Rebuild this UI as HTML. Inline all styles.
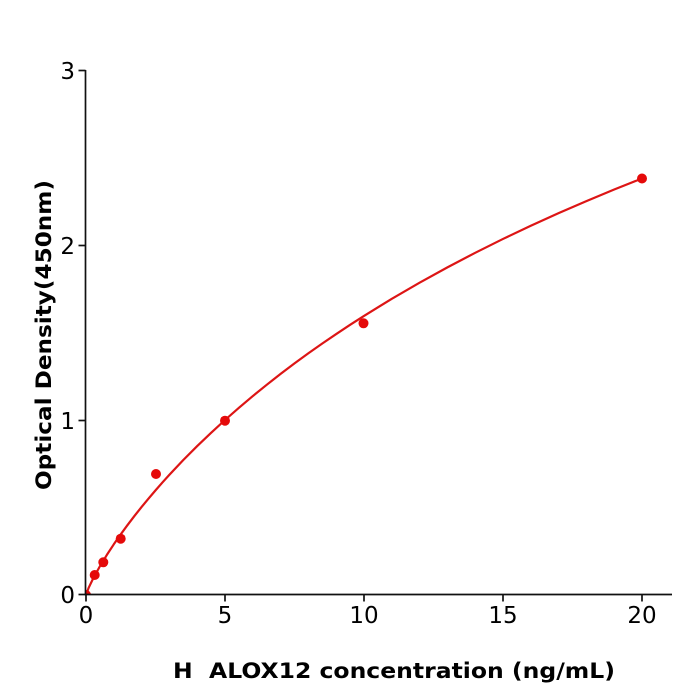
<!DOCTYPE html>
<html>
<head>
<meta charset="utf-8">
<style>
  html,body{margin:0;padding:0;background:#fff;}
  svg{display:block;}
  text{font-family:"DejaVu Sans","Liberation Sans",sans-serif;fill:#000;}
</style>
</head>
<body>
<svg width="700" height="700" viewBox="0 0 700 700" xmlns="http://www.w3.org/2000/svg">
  <defs>
    <clipPath id="ax">
      <rect x="85.5" y="40" width="600" height="554.5"/>
    </clipPath>
  </defs>
  <rect width="700" height="700" fill="#fff"/>

  <g clip-path="url(#ax)">
    <polyline fill="none" stroke="#dd1515" stroke-width="2.2" stroke-linejoin="round" stroke-linecap="round"
      points="86,595 88.78,587.54 92.95,578.87 99.9,566.28 106.85,554.89 113.8,544.3 120.75,534.3 127.7,524.8 134.65,515.7 141.6,506.96 148.55,498.52 155.5,490.35 162.45,482.42 169.4,474.76 183.3,459.97 197.2,446.05 211.1,432.78 225,420 238.9,407.77 252.8,396.06 266.7,384.81 280.6,373.92 294.5,363.42 308.4,353.29 322.3,343.49 336.2,334.04 350.1,324.78 364,315.9 391.8,298.78 419.6,282.68 447.4,267.38 475.2,252.79 503,238.94 530.8,225.79 558.6,213.15 586.4,201.09 614.2,189.53 642,178.46"/>
    <g fill="#e50a0a">
      <circle cx="86" cy="595" r="5"/>
      <circle cx="94.7" cy="575" r="5"/>
      <circle cx="103.3" cy="562.3" r="5"/>
      <circle cx="120.7" cy="538.7" r="5"/>
      <circle cx="156" cy="474" r="5"/>
      <circle cx="225" cy="420.7" r="5"/>
      <circle cx="363.5" cy="323.3" r="5"/>
      <circle cx="642" cy="178.5" r="5"/>
    </g>
  </g>

  <!-- spines -->
  <g stroke="#111" stroke-width="1.7" fill="none">
    <line x1="85.5" y1="70" x2="85.5" y2="595.3"/>
    <line x1="84.7" y1="594.5" x2="672" y2="594.5"/>
    <!-- y ticks -->
    <line x1="78.5" y1="594.5" x2="85.5" y2="594.5"/>
    <line x1="78.5" y1="420.5" x2="85.5" y2="420.5"/>
    <line x1="78.5" y1="245.5" x2="85.5" y2="245.5"/>
    <line x1="78.5" y1="70.5" x2="85.5" y2="70.5"/>
    <!-- x ticks -->
    <line x1="86" y1="594.5" x2="86" y2="601.5"/>
    <line x1="225" y1="594.5" x2="225" y2="601.5"/>
    <line x1="364" y1="594.5" x2="364" y2="601.5"/>
    <line x1="503" y1="594.5" x2="503" y2="601.5"/>
    <line x1="642" y1="594.5" x2="642" y2="601.5"/>
  </g>

  <!-- y tick labels -->
  <g font-size="23" text-anchor="end">
    <text x="75" y="603">0</text>
    <text x="75" y="429">1</text>
    <text x="75" y="254">2</text>
    <text x="75" y="79">3</text>
  </g>
  <!-- x tick labels -->
  <g font-size="23" text-anchor="middle">
    <text x="86" y="623">0</text>
    <text x="225" y="623">5</text>
    <text x="364" y="623">10</text>
    <text x="503" y="623">15</text>
    <text x="642" y="623">20</text>
  </g>

  <!-- axis labels -->
  <text x="394" y="678" font-size="21" font-weight="bold" text-anchor="middle" style="white-space:pre" textLength="442" lengthAdjust="spacingAndGlyphs">H  ALOX12 concentration (ng/mL)</text>
  <text transform="translate(51,335) rotate(-90)" x="0" y="0" font-size="21" font-weight="bold" text-anchor="middle" textLength="310" lengthAdjust="spacingAndGlyphs">Optical Density(450nm)</text>
</svg>
</body>
</html>
